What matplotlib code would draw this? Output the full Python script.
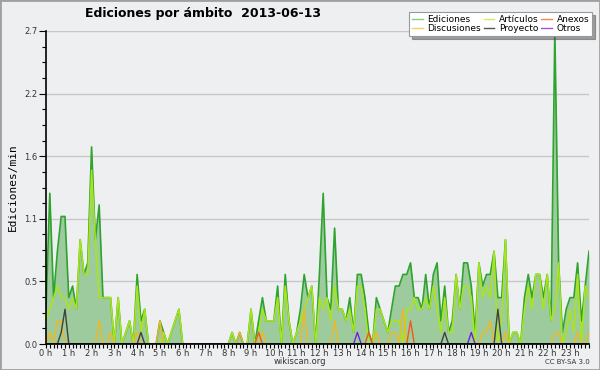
import numpy as np
import matplotlib
matplotlib.use("Agg")
import matplotlib.pyplot as plt
from matplotlib.lines import Line2D
from matplotlib.patches import Rectangle
from matplotlib.ticker import FixedLocator, MultipleLocator

# edits per minute, one value per 10 minutes (144 slots)
ediciones = [
    0.3, 1.3, 0.4, 0.8, 1.1, 1.1, 0.4, 0.5, 0.3, 0.9, 0.6, 0.7,
    1.7, 0.9, 1.2, 0.4, 0.4, 0.4, 0.0, 0.4, 0.0, 0.1, 0.2, 0.0,
    0.6, 0.2, 0.3, 0.0, 0.0, 0.0, 0.2, 0.1, 0.0, 0.1, 0.2, 0.3,
    0.0, 0.0, 0.0, 0.0, 0.0, 0.0, 0.0, 0.0, 0.0, 0.0, 0.0, 0.0,
    0.0, 0.1, 0.0, 0.1, 0.0, 0.0, 0.3, 0.0, 0.2, 0.4, 0.2, 0.2,
    0.2, 0.5, 0.0, 0.6, 0.2, 0.0, 0.1, 0.3, 0.6, 0.4, 0.5, 0.0,
    0.6, 1.3, 0.4, 0.3, 1.0, 0.3, 0.3, 0.2, 0.4, 0.1, 0.6, 0.6,
    0.4, 0.1, 0.0, 0.4, 0.3, 0.2, 0.1, 0.3, 0.5, 0.5, 0.6, 0.6,
    0.7, 0.4, 0.4, 0.3, 0.6, 0.3, 0.6, 0.7, 0.2, 0.5, 0.1, 0.2,
    0.6, 0.3, 0.7, 0.7, 0.5, 0.1, 0.7, 0.5, 0.6, 0.6, 0.8, 0.4,
    0.4, 0.9, 0.0, 0.1, 0.1, 0.0, 0.4, 0.6, 0.4, 0.6, 0.6, 0.4,
    0.6, 0.2, 2.7, 0.7, 0.1, 0.3, 0.4, 0.4, 0.7, 0.2, 0.5, 0.8,
]
articulos = [
    0.2, 0.3, 0.4, 0.5, 0.4, 0.4, 0.3, 0.4, 0.3, 0.9, 0.6, 0.6,
    1.5, 0.9, 0.4, 0.4, 0.4, 0.4, 0.0, 0.4, 0.0, 0.1, 0.2, 0.0,
    0.5, 0.1, 0.3, 0.0, 0.0, 0.0, 0.0, 0.1, 0.0, 0.1, 0.2, 0.3,
    0.0, 0.0, 0.0, 0.0, 0.0, 0.0, 0.0, 0.0, 0.0, 0.0, 0.0, 0.0,
    0.0, 0.1, 0.0, 0.0, 0.0, 0.0, 0.3, 0.0, 0.1, 0.3, 0.2, 0.2,
    0.2, 0.4, 0.0, 0.5, 0.2, 0.0, 0.1, 0.2, 0.3, 0.4, 0.5, 0.0,
    0.4, 0.3, 0.4, 0.2, 0.5, 0.3, 0.3, 0.2, 0.3, 0.1, 0.5, 0.5,
    0.3, 0.0, 0.0, 0.3, 0.3, 0.2, 0.1, 0.2, 0.2, 0.2, 0.0, 0.3,
    0.3, 0.4, 0.3, 0.3, 0.4, 0.3, 0.5, 0.3, 0.1, 0.4, 0.1, 0.1,
    0.6, 0.3, 0.5, 0.5, 0.4, 0.0, 0.7, 0.4, 0.5, 0.4, 0.8, 0.0,
    0.2, 0.9, 0.0, 0.1, 0.1, 0.0, 0.3, 0.5, 0.3, 0.6, 0.6, 0.3,
    0.6, 0.2, 0.3, 0.7, 0.0, 0.1, 0.3, 0.1, 0.6, 0.0, 0.5, 0.4,
]
# sparse series: {slot: value}
discusiones = {1: 0.1, 3: 0.2, 4: 0.2, 14: 0.2, 17: 0.1, 24: 0.1, 30: 0.2,
               51: 0.1, 57: 0.1, 68: 0.3, 76: 0.2, 87: 0.1, 91: 0.1, 92: 0.1,
               94: 0.3, 115: 0.1, 116: 0.1, 117: 0.2, 121: 0.1, 134: 0.1,
               135: 0.1, 140: 0.1, 143: 0.1}
proyecto = {4: 0.1, 5: 0.3, 25: 0.1, 105: 0.1, 119: 0.3}
anexos = {56: 0.1, 85: 0.1, 96: 0.2}
otros = {82: 0.1, 112: 0.1}

hour_labels = [f"{h} h" for h in range(24)]


def dense(d, n=144):
    v = np.zeros(n)
    for k, val in d.items():
        v[k] = val
    return v


x = np.arange(144)
bg = "#eeeff0"

fig = plt.figure(figsize=(6, 3.7), dpi=100, facecolor=bg)
ax = fig.add_axes([46 / 600, 26 / 370, 543 / 600, 313 / 370], facecolor=bg)

ax.fill_between(x, ediciones, color="#9dcb9d", lw=0)
ax.plot(x, ediciones, color="#2ea42e", lw=1.2)
ax.plot(x, articulos, color="#a8e619", lw=1.1)
ax.plot(x, dense(discusiones), color="#f0b820", lw=1.0)
ax.plot(x, dense(anexos), color="#ee5a1e", lw=1.0)
ax.plot(x, dense(otros), color="#7020e0", lw=1.0)
ax.plot(x, dense(proyecto), color="#404040", lw=1.0)

ax.set_xlim(0, 143)
ax.set_ylim(0, 2.7)

yt = np.linspace(0, 2.7, 6)
ax.yaxis.set_major_locator(FixedLocator(yt))
ax.set_yticklabels([f"{v:.1f}" for v in yt])
ax.yaxis.set_minor_locator(MultipleLocator(0.135))
ax.set_xticks(np.arange(0, 144, 6))
ax.set_xticklabels(hour_labels)
ax.xaxis.set_minor_locator(MultipleLocator(1))

ax.tick_params(axis="both", labelsize=6, colors="#000000", labelcolor="#333333")
ax.tick_params(axis="y", which="major", length=5, width=0.8, pad=1)
ax.tick_params(axis="y", which="minor", length=3, width=0.8)
ax.tick_params(axis="x", which="both", length=3, width=0.8, pad=0.5)

ax.grid(axis="y", color="#c8c8c8", lw=1)
ax.set_axisbelow(True)
for s in ["top", "right"]:
    ax.spines[s].set_visible(False)
ax.spines["left"].set_linewidth(1.2)
ax.spines["bottom"].set_linewidth(1.2)

ax.set_ylabel("Ediciones/min", family="DejaVu Sans Mono", fontsize=8, labelpad=5)

fig.text(85 / 600, 1 - 14 / 370, "Ediciones por ámbito  2013-06-13",
         fontsize=9, fontweight="bold", va="center", ha="left")
fig.text(300 / 600, 1 - 362 / 370, "wikiscan.org", fontsize=6,
         ha="center", va="center", color="#333333")
fig.text(590 / 600, 1 - 362 / 370, "CC BY-SA 3.0", fontsize=5,
         ha="right", va="center", color="#333333")

handles = [
    Line2D([], [], color="#88cc88", lw=1),
    Line2D([], [], color="#f5d060", lw=1),
    Line2D([], [], color="#ccee66", lw=1),
    Line2D([], [], color="#555555", lw=1),
    Line2D([], [], color="#ee8855", lw=1),
    Line2D([], [], color="#9955ee", lw=1),
]
labels = ["Ediciones", "Discusiones", "Artículos", "Proyecto", "Anexos", "Otros"]
leg = fig.legend(handles, labels, ncol=3, loc="upper right",
                 bbox_to_anchor=(592 / 600, 1 - 12 / 370),
                 fontsize=6.5, frameon=True, fancybox=False, shadow=True,
                 handlelength=1.2, handletextpad=0.5, columnspacing=0.3,
                 labelspacing=0.05, borderpad=0.3, borderaxespad=0)
leg.get_frame().set_edgecolor("#999999")
leg.get_frame().set_linewidth(0.8)

fig.patches.append(Rectangle((0, 0), 1, 1, transform=fig.transFigure,
                             fill=False, edgecolor="#a0a0a0", lw=2))

fig.savefig("out.png", dpi=100, facecolor=bg)
